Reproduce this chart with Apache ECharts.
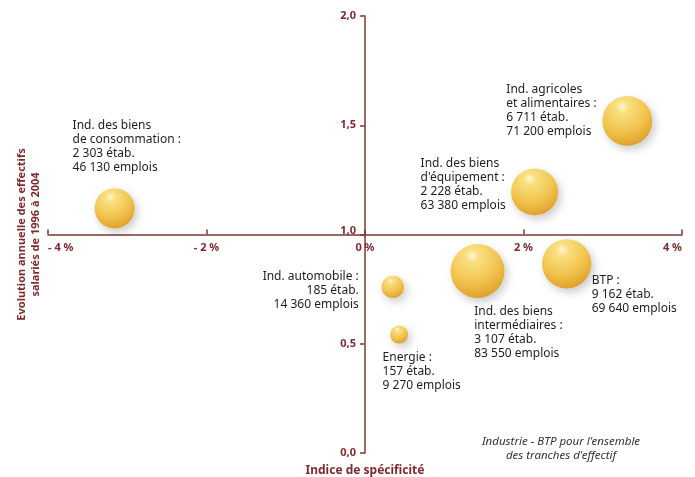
<!DOCTYPE html>
<html>
<head>
<meta charset="utf-8">
<script src="https://cdn.jsdelivr.net/npm/echarts@6/dist/echarts.min.js"></script>
<style>
html,body{margin:0;padding:0;background:#fff;}
#chart{width:695px;height:477px;}
</style>
</head>
<body>
<div id="chart"></div>
<script>
// ---- data ----
var sectors = [
  "Ind. des biens\nde consommation :",
  "Ind. agricoles\net alimentaires :",
  "Ind. des biens\nd'équipement :",
  "Ind. des biens\nintermédiaires :",
  "BTP :",
  "Ind. automobile :",
  "Energie :"
];
var specificity = [-3.16, 3.31, 2.14, 1.42, 2.545, 0.35, 0.43];   // x, %
var evolution   = [1.12, 1.52, 1.195, 0.833, 0.866, 0.76, 0.542]; // y
var etab        = ["2 303", "6 711", "2 228", "3 107", "9 162", "185", "157"];
var emplois     = [46130, 71200, 63380, 83550, 69640, 14360, 9270];
var xTicks = [-4, -2, 0, 2, 4];
var yTicks = [0, 0.5, 1, 1.5, 2];
var xCross = 0;   // y axis crosses x axis at x = 0
var yCross = 1;   // x axis crosses y axis at y = 1.0

// ---- label placement (style, not data) ----
var labelPlace = [
  {offset: [-42, -62], align: 'left'},
  {offset: [-121, -10.5], align: 'left'},
  {offset: [-114, -7.5], align: 'left'},
  {offset: [-3.3, 61.5], align: 'left'},
  {offset: [25, 30.5], align: 'left'},
  {offset: [-34, 3.5], align: 'right'},
  {offset: [-16.5, 37], align: 'left'}
];

function fmtEmplois(n) {
  return String(n).replace(/\B(?=(\d{3})+(?!\d))/g, ' ');
}

var axisColor = '#7a3a30';
var labelColor = '#7d2b2f';

var W = 695, H = 477;
var gridLeft = 48, gridRight = 13, gridTop = 16, gridBottom = 24;
var gridW = W - gridLeft - gridRight;
var gridH = H - gridTop - gridBottom;
var xMin = xTicks[0], xMax = xTicks[xTicks.length - 1];
var yMin = yTicks[0], yMax = yTicks[yTicks.length - 1];
var xAxisOffset = -gridH * (yCross - yMin) / (yMax - yMin);
var yAxisOffset = -gridW * (xCross - xMin) / (xMax - xMin);

var data = sectors.map(function (s, i) {
  return {
    value: [specificity[i], evolution[i], emplois[i]],
    label: {
      show: true,
      position: 'inside',
      offset: labelPlace[i].offset,
      align: labelPlace[i].align,
      verticalAlign: 'middle',
      formatter: s + "\n" + etab[i] + " étab.\n" + fmtEmplois(emplois[i]) + " emplois",
      color: '#1e1e1e',
      fontFamily: 'Noto Sans',
      fontSize: 12,
      lineHeight: 14
    }
  };
});

var chart = echarts.init(document.getElementById('chart'), null, {renderer: 'canvas'});
chart.setOption({
  animation: false,
  backgroundColor: '#fff',
  grid: {left: gridLeft, right: gridRight, top: gridTop, bottom: gridBottom, containLabel: false, outerBoundsMode: 'none'},
  xAxis: {
    type: 'value',
    min: xMin, max: xMax, interval: 2,
    position: 'bottom',
    offset: xAxisOffset,
    axisLine: {onZero: false, lineStyle: {color: axisColor, width: 1.5}},
    axisTick: {inside: true, length: 5, lineStyle: {color: axisColor, width: 1.5}},
    axisLabel: {
      margin: 8,
      alignMinLabel: 'left',
      alignMaxLabel: 'right',
      color: labelColor, fontWeight: 'bold', fontFamily: 'Noto Sans', fontSize: 11,
      formatter: function (v) { return v < 0 ? '- ' + Math.abs(v) + ' %' : v + ' %'; }
    },
    splitLine: {show: false},
    name: 'Indice de spécificité',
    nameLocation: 'middle',
    nameGap: 230,
    nameTextStyle: {color: labelColor, fontWeight: 'bold', fontFamily: 'Noto Sans', fontSize: 12}
  },
  yAxis: {
    type: 'value',
    min: yMin, max: yMax, interval: 0.5,
    position: 'left',
    offset: yAxisOffset,
    axisLine: {onZero: false, lineStyle: {color: axisColor, width: 1.5}},
    axisTick: {show: true, length: 5, lineStyle: {color: axisColor, width: 1.5}},
    axisLabel: {
      margin: 9,
      color: labelColor, fontWeight: 'bold', fontFamily: 'Noto Sans', fontSize: 11,
      formatter: function (v) {
        var t = v.toFixed(1).replace('.', ',');
        return v === yCross ? '{up|' + t + '}' : t;
      },
      rich: {up: {color: labelColor, fontWeight: 'bold', fontFamily: 'Noto Sans', fontSize: 11, padding: [0, 0, 8, 0]}}
    },
    splitLine: {show: false},
    name: 'Evolution annuelle des effectifs\nsalariés de 1996 à 2004',
    nameLocation: 'middle',
    nameRotate: 90,
    nameGap: 322,
    nameTextStyle: {color: labelColor, fontWeight: 'bold', fontFamily: 'Noto Sans', fontSize: 11, lineHeight: 14}
  },
  series: [{
    type: 'scatter',
    data: data,
    symbolSize: function (v) { return 2 * Math.sqrt(v[2] * 0.0087); },
    itemStyle: {
      color: {
        type: 'radial', x: 0.4, y: 0.22, r: 0.85,
        colorStops: [
          {offset: 0, color: '#fef6d2'},
          {offset: 0.15, color: '#f9df80'},
          {offset: 0.6, color: '#f1c24c'},
          {offset: 1, color: '#dc9a25'}
        ]
      },
      shadowBlur: 8,
      shadowColor: 'rgba(0,0,0,0.2)',
      shadowOffsetX: 3,
      shadowOffsetY: 4,
      opacity: 1
    },
    emphasis: {disabled: true}
  }],
  graphic: [{
    type: 'text',
    x: 561, y: 449,
    style: {
      text: "Industrie - BTP pour l'ensemble\ndes tranches d'effectif",
      textAlign: 'center', textVerticalAlign: 'middle',
      fill: '#333', fontStyle: 'italic', fontFamily: 'Noto Sans', fontSize: 11.5, lineHeight: 14
    }
  }]
});
</script>
</body>
</html>
